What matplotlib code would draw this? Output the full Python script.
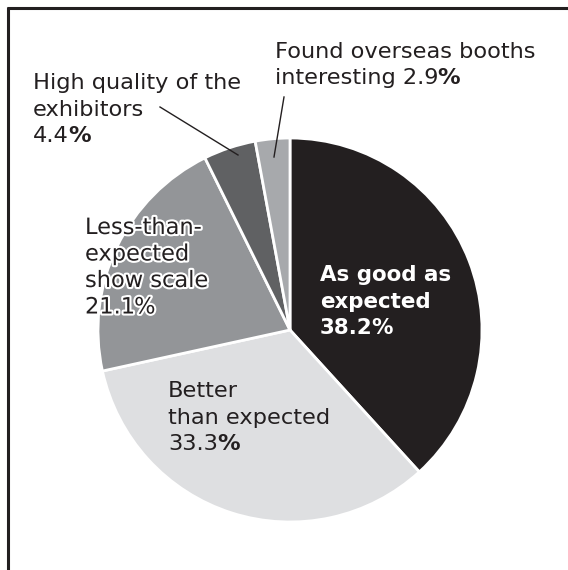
import matplotlib
matplotlib.use("Agg")
import matplotlib.pyplot as plt
import matplotlib.patheffects as pe
from matplotlib.lines import Line2D

# survey answers, clockwise from 12 o'clock
labels = ["As good as\nexpected", "Better\nthan expected", "Less-than-\nexpected\nshow scale",
          "High quality of the\nexhibitors", "Found overseas booths\ninteresting"]
values = [38.2, 33.3, 21.1, 4.4, 2.9]
colors = ["#231f20", "#dedfe1", "#939598", "#606163", "#a7a9ac"]

W, H = 568, 570
plt.rcParams["font.family"] = ["DejaVu Sans"]

fig = plt.figure(figsize=(W / 100, H / 100), dpi=100)
ax = fig.add_axes([0, 0, 1, 1])
ax.axis("off")

# pixel-style coordinates with y downwards, so clockwise on screen = counterclock here
cx, cy, r = 290, 330, 192
wedges, _ = ax.pie(values, colors=colors, startangle=-90, counterclock=True,
                   radius=r, center=(cx, cy),
                   wedgeprops=dict(edgecolor="white", linewidth=2))
ax.set_xlim(0, W)
ax.set_ylim(H, 0)
ax.set_aspect("equal")

fs = 16.2
lh = 26.5

fig.canvas.draw()
renderer = fig.canvas.get_renderer()


def label(x, y, text, value, color="#231f20", bold=False, bold_pct=True, inline=False,
          effects=None, size=fs):
    lines = text.split("\n")
    if inline:
        last = lines[-1] + " "
        head = lines[:-1]
    else:
        last = ""
        head = lines
    weight = "bold" if bold else "normal"
    for i, ln in enumerate(head):
        ax.text(x, y + i * lh, ln, fontsize=size, color=color, va="center", ha="left",
                fontweight=weight, path_effects=effects)
    row = len(head)
    t = ax.text(x, y + row * lh, last + f"{value:.1f}", fontsize=size, color=color,
                va="center", ha="left", fontweight=weight, path_effects=effects)
    bb = t.get_window_extent(renderer)
    xr = ax.transData.inverted().transform((bb.x1, bb.y0))[0]
    ax.text(xr - 1, y + row * lh, "%", fontsize=size, color=color, va="center", ha="left",
            fontweight="bold" if (bold or bold_pct) else "normal", path_effects=effects)


label(320, 275, labels[0], values[0], color="white", bold=True, size=15.4)
label(168, 391, labels[1], values[1])
label(85, 228, labels[2], values[2], bold_pct=False,
      effects=[pe.withStroke(linewidth=3, foreground="white")])
label(33, 83, labels[3], values[3])
label(275, 52, labels[4], values[4], inline=True)

# leader lines
ax.add_line(Line2D([160, 238], [107, 155], color="#231f20", lw=1))
ax.add_line(Line2D([284, 274], [97, 157], color="#231f20", lw=1))

# frame on top and left
fig.add_artist(Line2D([6.5 / W, 1], [1 - 7.5 / H, 1 - 7.5 / H], color="#231f20", lw=2.2,
                      solid_capstyle="butt"))
fig.add_artist(Line2D([7.5 / W, 7.5 / W], [1 - 6.5 / H, 0], color="#231f20", lw=2.2,
                      solid_capstyle="butt"))

fig.savefig("out.png", dpi=100)
